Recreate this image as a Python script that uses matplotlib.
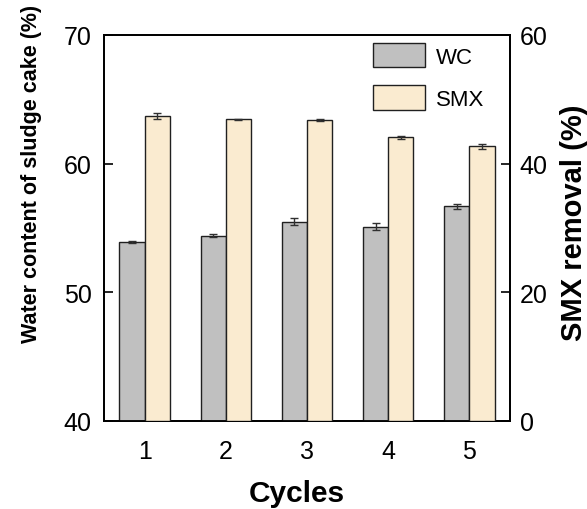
import matplotlib
matplotlib.use("Agg")
import matplotlib.pyplot as plt
import numpy as np

plt.rcParams['font.family'] = ['Liberation Sans', 'DejaVu Sans']

cycles = [1, 2, 3, 4, 5]
wc = [53.9, 54.4, 55.5, 55.1, 56.7]
wc_err = [0.1, 0.1, 0.3, 0.25, 0.2]
smx = [47.4, 46.9, 46.8, 44.1, 42.7]
smx_err = [0.4, 0.1, 0.2, 0.2, 0.4]

W, H = 587, 510
fig = plt.figure(figsize=(W/100, H/100), dpi=100)
ax = fig.add_axes([104/W, 1-422/H, (510-104)/W, (422-36)/H])
ax2 = ax.twinx()

x = np.array(cycles, dtype=float)
w = 0.31
ekw = dict(ecolor='#303030', elinewidth=1, capthick=1)
b1 = ax.bar(x - w/2, np.array(wc) - 40, w, bottom=40, color='#c0c0c0', edgecolor='#202020',
            linewidth=1.0, yerr=wc_err, capsize=3, error_kw=ekw, label='WC', zorder=3)
b2 = ax2.bar(x + w/2, smx, w, color='#faebd0', edgecolor='#202020', linewidth=1.0,
             yerr=smx_err, capsize=3, error_kw=ekw, label='SMX', zorder=3)

ax.set_xlim(0.5, 5.5)
ax.set_ylim(40, 70)
ax2.set_ylim(0, 60)
ax.set_yticks([40, 50, 60, 70])
ax2.set_yticks([0, 20, 40, 60])
ax.set_xticks(cycles)

for a in (ax, ax2):
    a.tick_params(direction='in', length=6.5, width=1.2, labelsize=18)
    for s in a.spines.values():
        s.set_linewidth(1.3)
ax.tick_params(axis='x', pad=13)
ax.tick_params(axis='y', pad=9)
ax2.tick_params(axis='y', pad=7)

ax.set_xlabel('Cycles', fontsize=21.5, fontweight='bold')
ax.xaxis.set_label_coords((296.5-104)/406, (422-480)/386)
ax.set_ylabel('Water content of sludge cake (%)', fontsize=15.5, fontweight='bold')
ax.yaxis.set_label_coords((42-104)/406, (422-174)/386)
ax2.set_ylabel('SMX removal (%)', fontsize=21, fontweight='bold')
ax2.yaxis.set_label_coords((560-104)/406, (422-223)/386)

leg = ax2.legend([b1, b2], ['WC', 'SMX'], loc='upper left',
                 bbox_to_anchor=(373/W, 1-44/H), bbox_transform=fig.transFigure,
                 frameon=False, fontsize=16, handlelength=2.35, handleheight=1.3,
                 labelspacing=0.8, handletextpad=0.5, borderpad=0, borderaxespad=0)

fig.savefig('out.png', dpi=100)
